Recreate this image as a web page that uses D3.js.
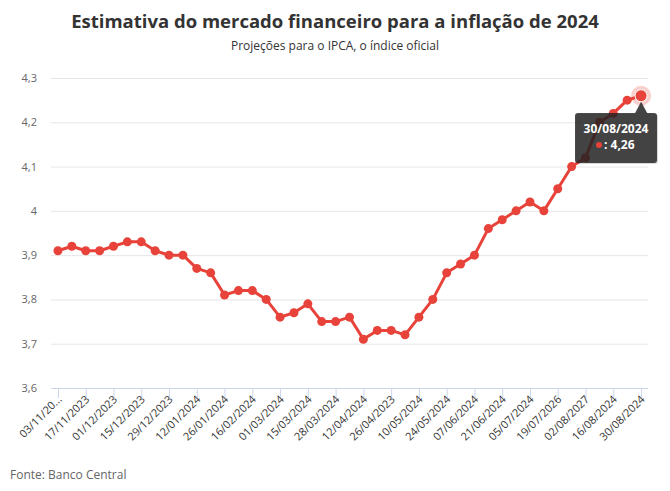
<!DOCTYPE html>
<html>
<head>
<meta charset="utf-8">
<script src="https://cdn.jsdelivr.net/npm/d3@7"></script>
<style>
  html, body { margin: 0; padding: 0; background: #fff; }
  svg { display: block; font-family: "Open Sans", sans-serif; }
</style>
</head>
<body>
<svg id="chart" width="670" height="491"></svg>
<script>
const titleText = "Estimativa do mercado financeiro para a inflação de 2024";
const subtitleText = "Projeções para o IPCA, o índice oficial";
const sourceText = "Fonte: Banco Central";

const dates = [
  "03/11/2023","10/11/2023","17/11/2023","24/11/2023","01/12/2023","08/12/2023",
  "15/12/2023","22/12/2023","29/12/2023","05/01/2024","12/01/2024","19/01/2024",
  "26/01/2024","02/02/2024","16/02/2024","23/02/2024","01/03/2024","08/03/2024",
  "15/03/2024","22/03/2024","28/03/2024","05/04/2024","12/04/2024","19/04/2024",
  "26/04/2023","03/05/2024","10/05/2024","17/05/2024","24/05/2024","31/05/2024",
  "07/06/2024","14/06/2024","21/06/2024","28/06/2024","05/07/2024","12/07/2024",
  "19/07/2026","26/07/2024","02/08/2027","09/08/2024","16/08/2024","23/08/2024",
  "30/08/2024"
];
const ipca = [
  3.91, 3.92, 3.91, 3.91, 3.92, 3.93, 3.93, 3.91, 3.90, 3.90, 3.87, 3.86,
  3.81, 3.82, 3.82, 3.80, 3.76, 3.77, 3.79, 3.75, 3.75, 3.76, 3.71, 3.73,
  3.73, 3.72, 3.76, 3.80, 3.86, 3.88, 3.90, 3.96, 3.98, 4.00, 4.02, 4.00,
  4.05, 4.10, 4.12, 4.20, 4.22, 4.25, 4.26
];
const yTicks = [3.6, 3.7, 3.8, 3.9, 4.0, 4.1, 4.2, 4.3];
const firstLabel = "03/11/20...";

const fmt = v => String(+v.toFixed(2)).replace(".", ",");

const svg = d3.select("#chart");
const mLeft = 51, mRight = 648, mTop = 78, mBottom = 388;
const red = "#e8433a";

const x = d3.scalePoint().domain(d3.range(dates.length)).range([mLeft, mRight]).padding(0.5);
const y = d3.scaleLinear().domain([3.6, 4.3]).range([mBottom, mTop]);

// Title
svg.append("text").attr("x", 335).attr("y", 28).attr("text-anchor", "middle")
  .attr("font-size", 18.5).attr("font-weight", 700).attr("fill", "#333")
  .text(titleText);
svg.append("text").attr("x", 335).attr("y", 50).attr("text-anchor", "middle")
  .attr("font-size", 12).attr("fill", "#333")
  .text(subtitleText);

// Grid + y labels
const yAxis = d3.axisLeft(y).tickValues(yTicks).tickSize(-(mRight - mLeft)).tickFormat(fmt).tickPadding(14);
const gy = svg.append("g").attr("transform", `translate(${mLeft},0)`).call(yAxis);
gy.select(".domain").remove();
gy.selectAll(".tick line").attr("stroke", "#e6e6e6");
gy.selectAll(".tick text").attr("fill", "#666").attr("font-size", 11).attr("font-family", "Open Sans, sans-serif");

// X axis
const tickIdx = d3.range(0, dates.length, 2);
const xAxis = d3.axisBottom(x).tickValues(tickIdx).tickSize(10)
  .tickFormat(i => i === 0 ? firstLabel : dates[i]);
const gx = svg.append("g").attr("transform", `translate(0,${mBottom})`).call(xAxis);
gx.select(".domain").attr("d", `M${mLeft},0.5H${mRight}`).attr("stroke", "#ccd6eb");
gx.selectAll(".tick line").attr("stroke", "#ccd6eb");
gx.selectAll(".tick text")
  .attr("fill", "#333").attr("font-size", 11).attr("font-family", "Open Sans, sans-serif")
  .attr("text-anchor", "end")
  .attr("dy", null).attr("y", null)
  .attr("transform", "translate(4,12) rotate(-45)");

// Line
const line = d3.line().x((d, i) => x(i)).y(d => y(d));
svg.append("path").datum(ipca).attr("d", line)
  .attr("fill", "none").attr("stroke", red).attr("stroke-width", 3)
  .attr("stroke-linejoin", "round").attr("stroke-linecap", "round");

svg.append("g").selectAll("circle").data(ipca.slice(0, -1)).join("circle")
  .attr("cx", (d, i) => x(i)).attr("cy", d => y(d)).attr("r", 4.5).attr("fill", red);

// Hovered last point with halo
const li = ipca.length - 1;
const lx = x(li), ly = y(ipca[li]);
svg.append("circle").attr("cx", lx).attr("cy", ly).attr("r", 10)
  .attr("fill", red).attr("fill-opacity", 0.25);
svg.append("circle").attr("cx", lx).attr("cy", ly).attr("r", 6)
  .attr("fill", red).attr("stroke", "#fff").attr("stroke-width", 1);

// Tooltip
const tb = { x0: 575, x1: 657, y0: 113, y1: 163 };
const tip = svg.append("g");
const r = 3;
const tipPath = `M${tb.x0 + r},${tb.y0} L${lx - 6},${tb.y0} L${lx},${ly + 6} L${lx + 6},${tb.y0} L${tb.x1 - r},${tb.y0} Q${tb.x1},${tb.y0} ${tb.x1},${tb.y0 + r} L${tb.x1},${tb.y1 - r} Q${tb.x1},${tb.y1} ${tb.x1 - r},${tb.y1} L${tb.x0 + r},${tb.y1} Q${tb.x0},${tb.y1} ${tb.x0},${tb.y1 - r} L${tb.x0},${tb.y0 + r} Q${tb.x0},${tb.y0} ${tb.x0 + r},${tb.y0} Z`;
tip.append("path").attr("d", tipPath).attr("transform", "translate(1,1)")
  .attr("fill", "#000").attr("fill-opacity", 0.15);
tip.append("path").attr("d", tipPath).attr("fill", "#222").attr("fill-opacity", 0.82);
tip.append("text").attr("x", (tb.x0 + tb.x1) / 2).attr("y", 133).attr("text-anchor", "middle")
  .attr("font-size", 12).attr("font-weight", 700).attr("fill", "#fff").text(dates[li]);
tip.append("circle").attr("cx", 599).attr("cy", 145).attr("r", 3).attr("fill", red);
tip.append("text").attr("x", 604).attr("y", 149)
  .attr("font-size", 12).attr("font-weight", 700).attr("fill", "#fff").text(": " + fmt(ipca[li]));

// Source
svg.append("text").attr("x", 10).attr("y", 479).attr("font-size", 12).attr("fill", "#666").text(sourceText);
</script>
</body>
</html>
